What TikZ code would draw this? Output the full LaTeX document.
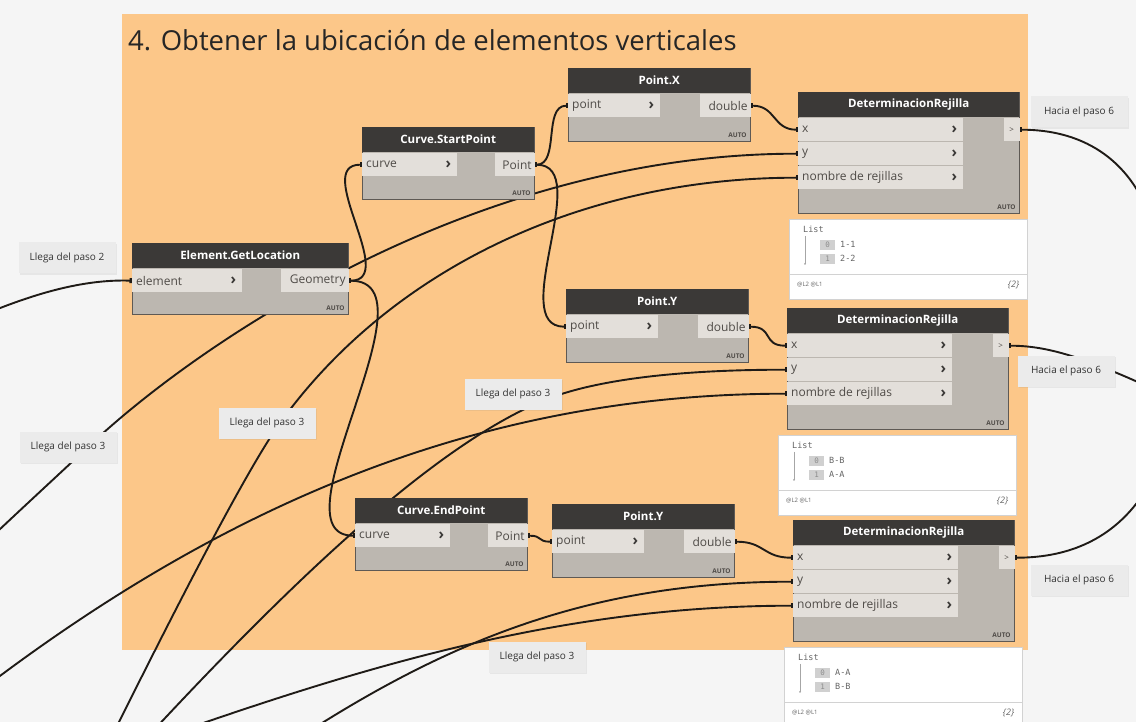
\documentclass[tikz,border=0pt]{standalone}
\usepackage{fontspec}
\setmainfont{Open Sans}
\setmonofont{DejaVu Sans Mono}
\usetikzlibrary{arrows.meta,positioning,backgrounds,shadows}
\definecolor{canvas}{HTML}{F5F5F5}
\definecolor{grporange}{HTML}{FCC789}
\definecolor{headdark}{HTML}{3B3937}
\definecolor{bodygray}{HTML}{BCB7B0}
\definecolor{portgray}{HTML}{E3DFDA}
\definecolor{edgegray}{HTML}{5E5954}
\definecolor{porttext}{HTML}{4F4B47}
\definecolor{wireblack}{HTML}{1F1B17}
\definecolor{notegray}{HTML}{EBEBEB}
\definecolor{watchline}{HTML}{D2D2D2}
\definecolor{idxgray}{HTML}{D0D0D0}
\pgfdeclarelayer{back}
\pgfdeclarelayer{wires}
\pgfsetlayers{back,wires,main}
\tikzset{
  title/.style={font=\fontsize{27.5}{30}\selectfont,text=black!85,anchor=west,inner sep=0pt},
  dbody/.style={draw=edgegray,fill=bodygray,line width=0.8pt,anchor=north west,inner sep=0pt},
  dhead/.style={fill=headdark,text=white,anchor=north west,inner sep=0pt,minimum height=25pt,font=\bfseries\fontsize{11.5}{13}\selectfont},
  dport/.style={fill=portgray,anchor=north west,inner sep=0pt,minimum height=23pt},
  ptext/.style={font=\fontsize{12}{14}\selectfont,text=porttext,inner sep=0pt},
  chev/.style={font=\bfseries\fontsize{15}{15}\selectfont,text=headdark,inner sep=0pt},
  autotag/.style={font=\bfseries\fontsize{6.5}{7}\selectfont,text=porttext,inner sep=0pt,anchor=south east},
  note/.style={fill=notegray,minimum width=97pt,minimum height=31pt,inner sep=2pt,font=\fontsize{10}{12}\selectfont,text=black!80,drop shadow={opacity=0.12,shadow xshift=1pt,shadow yshift=-1.5pt}},
  watch/.style={draw=watchline,fill=white,anchor=north west,minimum width=238pt,minimum height=80pt,inner sep=0pt},
  mono/.style={font=\ttfamily\fontsize{8.5}{10}\selectfont,text=black!60,inner sep=0pt,anchor=west},
  idx/.style={fill=idxgray,font=\ttfamily\fontsize{7.5}{9}\selectfont,text=black!45,minimum width=15pt,minimum height=10pt,inner sep=0pt,anchor=west},
  foot/.style={font=\fontsize{6}{7}\selectfont,text=black!60,inner sep=0pt},
  wire/.style={draw=wireblack,line width=1.9pt,{Rectangle[length=2.5pt,width=5pt]}-{Rectangle[length=2.5pt,width=5pt]}},
  wireout/.style={draw=wireblack,line width=1.9pt,{Rectangle[length=2.5pt,width=5pt]}-},
  wirein/.style={draw=wireblack,line width=1.9pt,-{Rectangle[length=2.5pt,width=5pt]}}
}
\begin{document}
\begin{tikzpicture}[x=1pt,y=-1pt]
\useasboundingbox (0,0) rectangle (1136,722);
\begin{pgfonlayer}{back}
\fill[canvas] (0,0) rectangle (1136,722);
\fill[grporange] (122,14) rectangle (1028,650);
\end{pgfonlayer}
\node[title] (ttl) at (128,40) {4. Obtener la ubicación de elementos verticales};

% Element.GetLocation
\node[dbody,minimum width=216pt,minimum height=71pt] (gl) at (132,243) {};
\node[dhead,minimum width=216pt] (gl-h) at (gl.north west) {Element.GetLocation};
\node[dport,minimum width=110pt] (gl-in) at ([yshift=-26pt]gl.north west) {};
\node[ptext,right=4pt of gl-in.west] {element};
\node[chev,left=6pt of gl-in.east] {›};
\node[dport,minimum width=68pt,anchor=north east] (gl-out) at ([yshift=-26pt]gl.north east) {};
\node[ptext,left=3pt of gl-out.east] {Geometry};
\node[autotag] at ([xshift=-4pt,yshift=4pt]gl.south east) {AUTO};

% Curve.StartPoint / Curve.EndPoint
\foreach \nm/\ttl/\x/\y in {sp/Curve.StartPoint/362/127, ep/Curve.EndPoint/355/498}{
  \node[dbody,minimum width=172pt,minimum height=72pt] (\nm) at (\x,\y) {};
  \node[dhead,minimum width=172pt] at (\nm.north west) {\ttl};
  \node[dport,minimum width=95pt] (\nm-in) at ([yshift=-26pt]\nm.north west) {};
  \node[ptext,right=4pt of \nm-in.west] {curve};
  \node[chev,left=6pt of \nm-in.east] {›};
  \node[dport,minimum width=40pt,anchor=north east] (\nm-out) at ([yshift=-26pt]\nm.north east) {};
  \node[ptext,left=3pt of \nm-out.east] {Point};
  \node[autotag] at ([xshift=-4pt,yshift=4pt]\nm.south east) {AUTO};
}

% Point.X / Point.Y
\foreach \nm/\ttl/\x/\y in {px/Point.X/568/68, py1/Point.Y/566/289, py2/Point.Y/552/504}{
  \node[dbody,minimum width=182pt,minimum height=73pt] (\nm) at (\x,\y) {};
  \node[dhead,minimum width=182pt] at (\nm.north west) {\ttl};
  \node[dport,minimum width=92pt] (\nm-in) at ([yshift=-26pt]\nm.north west) {};
  \node[ptext,right=4pt of \nm-in.west] {point};
  \node[chev,left=6pt of \nm-in.east] {›};
  \node[dport,minimum width=51pt,anchor=north east] (\nm-out) at ([yshift=-26pt]\nm.north east) {};
  \node[ptext,left=3pt of \nm-out.east] {double};
  \node[autotag] at ([xshift=-4pt,yshift=4pt]\nm.south east) {AUTO};
}

% DeterminacionRejilla + watch
\foreach \n/\x/\y/\va/\vb in {1/798/92/1-1/2-2, 2/787/308/B-B/A-A, 3/793/520/A-A/B-B}{
  \node[dbody,minimum width=221pt,minimum height=121pt] (dr\n) at (\x,\y) {};
  \node[dhead,minimum width=221pt] at (dr\n.north west) {DeterminacionRejilla};
  \foreach \p/\t/\d in {x/x/26, y/y/50, nom/nombre de rejillas/74}{
    \node[dport,minimum width=165pt] (dr\n-\p) at ([yshift=-\d pt]dr\n.north west) {};
    \node[ptext,right=4pt of dr\n-\p.west] {\t};
    \node[chev,left=6pt of dr\n-\p.east] {›};
  }
  \node[dport,minimum width=16pt,anchor=north east] (dr\n-out) at ([yshift=-26pt]dr\n.north east) {};
  \node[font=\fontsize{8}{8}\selectfont,text=porttext,inner sep=0pt] at (dr\n-out) {>};
  \node[autotag] at ([xshift=-4pt,yshift=4pt]dr\n.south east) {AUTO};
  \node[watch] (w\n) at ([xshift=-9pt,yshift=-5pt]dr\n.south west) {};
  \draw[watchline] ([yshift=-55pt]w\n.north west) -- ([yshift=-55pt]w\n.north east);
  \node[mono] at ([xshift=14pt,yshift=-11pt]w\n.north west) {List};
  \draw[black!35,line width=0.6pt] ([xshift=16pt,yshift=-17pt]w\n.north west) -- ([xshift=16pt,yshift=-45pt]w\n.north west);
  \fill[black!35] ([xshift=16pt,yshift=-45pt]w\n.north west) circle (1pt);
  \node[idx] at ([xshift=31pt,yshift=-26pt]w\n.north west) {0};
  \node[mono] at ([xshift=51pt,yshift=-26pt]w\n.north west) {\va};
  \node[idx] at ([xshift=31pt,yshift=-40pt]w\n.north west) {1};
  \node[mono] at ([xshift=51pt,yshift=-40pt]w\n.north west) {\vb};
  \node[foot,anchor=west] at ([xshift=8pt,yshift=-66pt]w\n.north west) {@L2 @L1};
  \node[foot,anchor=east,font=\itshape\fontsize{9}{10}\selectfont] at ([xshift=-8pt,yshift=-66pt]w\n.north east) {\{2\}};
}

% notes
\node[note] (l2) at (67,258) {Llega del paso 2};
\node[note] (l3a) at (68,447) {Llega del paso 3};
\node[note] (l3b) at (267,423) {Llega del paso 3};
\node[note] (l3c) at (513,394) {Llega del paso 3};
\node[note] (l3d) at (537,657) {Llega del paso 3};
\node[note] (h1) at (1079,112) {Hacia el paso 6};
\node[note] (h2) at (1066,371) {Hacia el paso 6};
\node[note] (h3) at (1079,580) {Hacia el paso 6};

% wire ends outside the picture
\coordinate (in2) at (-10,312);
\coordinate (s3a) at (-20,548);
\coordinate (s3b) at (110,740);
\coordinate (s3c) at (140,745);
\coordinate (s3d) at (-20,691);
\coordinate (s3e) at (300,737);
\coordinate (s3f) at (160,738);
\coordinate (w2m) at (88,447);
\coordinate (w4m) at (280,423);
\coordinate (w5m) at (540,402);
\coordinate (o6a) at (1160,260);
\coordinate (o6b) at (1160,392);
\coordinate (o6c) at (1165,450);

\begin{pgfonlayer}{wires}
\begin{scope}
\clip (0,0) rectangle (1136,722);
\draw[wirein] (in2) .. controls (30,296) and (80,279) .. (gl-in.west);
\draw[wire] (gl-out.east) .. controls +(50,0) and +(-50,0) .. (sp-in.west);
\draw[wire] (gl-out.east) .. controls +(92,0) and +(-85,0) .. (ep-in.west);
\draw[wire] (sp-out.east) .. controls +(25,0) and +(-25,0) .. (px-in.west);
\draw[wire] (sp-out.east) .. controls +(60,0) and +(-60,0) .. (py1-in.west);
\draw[wire] (px-out.east) .. controls +(25,0) and +(-25,0) .. (dr1-x.west);
\draw[wire] (py1-out.east) .. controls +(25,0) and +(-25,0) .. (dr2-x.west);
\draw[wire] (ep-out.east) .. controls +(15,0) and +(-15,0) .. (py2-in.west);
\draw[wire] (py2-out.east) .. controls +(30,0) and +(-30,0) .. (dr3-x.west);
\draw[wirein] (s3a) .. controls (20,510) and (55,478) .. (w2m) .. controls (190,350) and +(-330,0) .. (dr1-y.west);
\draw[wirein] (s3b) .. controls (150,660) and (240,479) .. (w4m) .. controls (390,270) and +(-217,0) .. (dr1-nom.west);
\draw[wirein] (s3c) .. controls (310,561) and (440,445) .. (w5m) .. controls (600,376) and +(-87,0) .. (dr2-y.west);
\draw[wirein] (s3d) .. controls (230,500) and +(-300,0) .. (dr2-nom.west);
\draw[wirein] (s3e) .. controls (450,640) and +(-200,0) .. (dr3-y.west);
\draw[wirein] (s3f) .. controls (360,668) and +(-233,0) .. (dr3-nom.west);
\draw[wireout] (dr1-out.east) .. controls +(82,0) and (1150,180) .. (o6a);
\draw[wireout] (dr2-out.east) .. controls +(42,0) and (1090,360) .. (o6b);
\draw[wireout] (dr3-out.east) .. controls +(76,0) and (1140,520) .. (o6c);
\end{scope}
\end{pgfonlayer}
\end{tikzpicture}
\end{document}
